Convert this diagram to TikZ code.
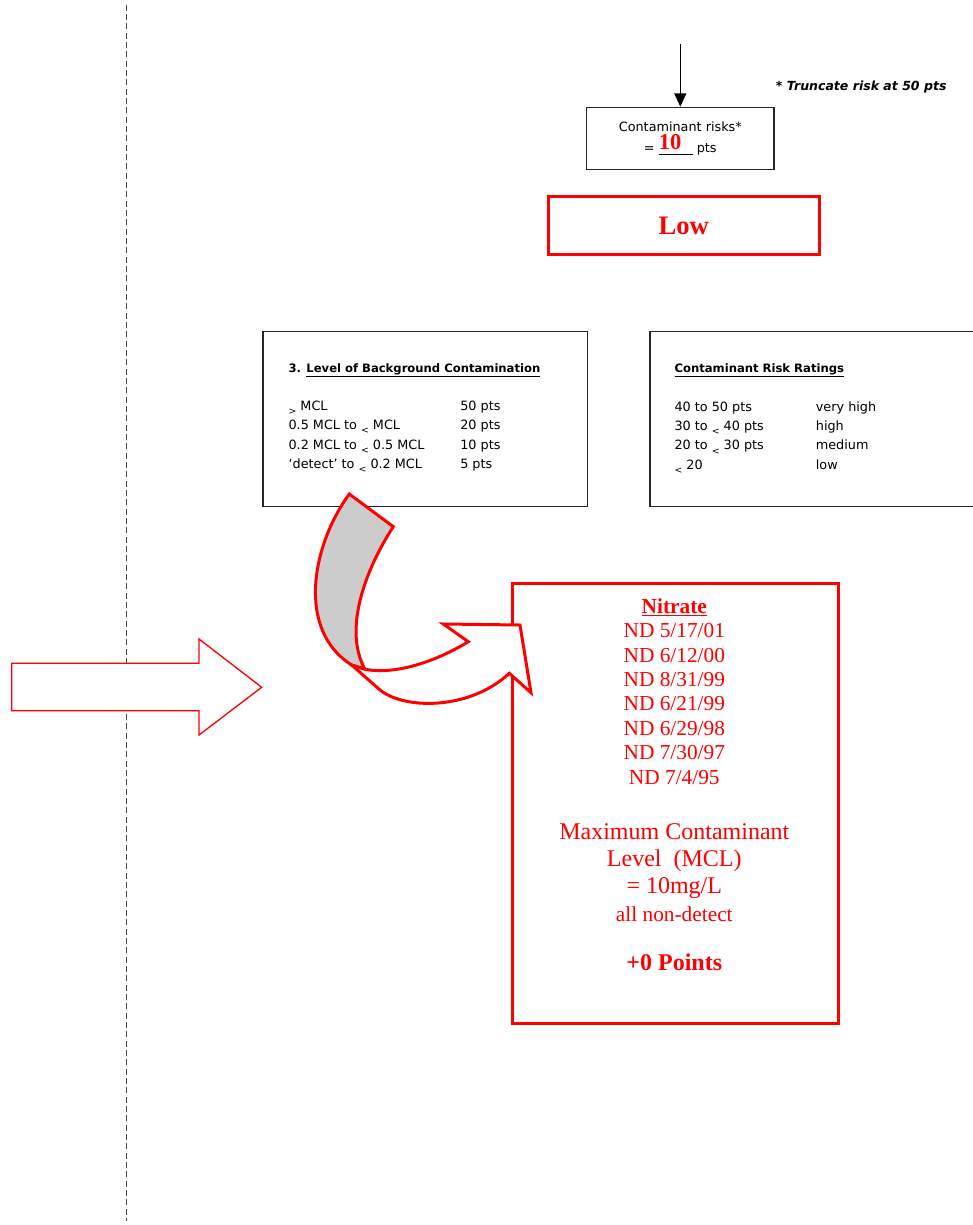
\documentclass[tikz,border=0pt]{standalone}
\usepackage{fontspec}
\setmainfont{Liberation Serif}
\newfontfamily\comic{DejaVu Sans}[ItalicFont={DejaVu Sans Oblique},BoldItalicFont={DejaVu Sans Bold Oblique}]
\usetikzlibrary{arrows.meta}
\newcommand{\lowsym}[1]{\raisebox{-0.6ex}{\scriptsize #1}}

\begin{document}
\begin{tikzpicture}[x=0.75pt,y=-0.75pt,
  black box/.style={draw=black!85,line width=0.95pt,inner sep=0pt},
  red box/.style={draw=red,line width=2.25pt,inner sep=0pt},
  comic text/.style={font=\comic\fontsize{9.6}{14.6}\selectfont,inner sep=0pt},
  comic head/.style={font=\comic\bfseries\fontsize{8.7}{14.6}\selectfont,inner sep=0pt},
  red text/.style={text=red,inner sep=0pt}]

  \useasboundingbox (0,0) rectangle (972,1225);

  % dashed margin line
  \coordinate (m1) at (126.7,4.7);
  \coordinate (m2) at (126.7,1221);
  \draw[black!70,line width=1.1pt,dash pattern=on 4.5pt off 2.5pt] (m1) -- (m2);

  % big arrow on the left
  \draw[red,fill=white,line width=1pt] (11.7,663.3) -- (199,663.3) -- (199,639)
    -- (261.7,687.3) -- (199,735) -- (199,710.7) -- (11.7,710.7) -- cycle;

  % total
  \node[black box,minimum width=140.5pt,minimum height=46.5pt,align=center,
    font=\comic\fontsize{9.6}{15.75}\selectfont] (risk) at (680.3,138.3)
    {Contaminant risks*\\ =~\underline{\makebox[25.5pt][l]{\smash{\raisebox{2pt}{\textcolor{red}{\rmfamily\bfseries\fontsize{17}{17}\selectfont 10}}}}}~pts};
  \coordinate (in) at (680.3,44);
  \draw[-{Triangle[width=9pt,length=10pt]},line width=1pt] (in) -- (risk);
  \node[font=\comic\bfseries\itshape\fontsize{9.4}{11}\selectfont,anchor=base west,inner sep=0pt] (note) at (775.7,90) {* Truncate risk at 50 pts};

  \node[red box,minimum width=203.5pt,minimum height=43.7pt,text=red,
    font=\bfseries\fontsize{20}{20}\selectfont] (low) at (683.7,225.8) {Low};

  % scoring tables
  \node[black box,anchor=north west,minimum width=243.3pt,minimum height=131.3pt] (bg) at (262.3,331) {};
  \node[comic head,anchor=base west] (bgtitle) at (288.3,372.3) {3. \underline{Level of Background Contamination}};
  \node[comic text,anchor=base west] (bgrows) at (288.3,410.3) {\begin{tabular}[t]{@{}p{128.8pt}@{}l@{}}
    \lowsym{>} MCL & 50 pts\\
    0.5 MCL to \lowsym{<} MCL & 20 pts\\
    0.2 MCL to \lowsym{<} 0.5 MCL & 10 pts\\
    ‘detect’ to \lowsym{<} 0.2 MCL & 5 pts
  \end{tabular}};

  \node[black box,anchor=north west,minimum width=248pt,minimum height=131.3pt] (ratings) at (649.3,330.7) {};
  \node[comic head,anchor=base west] (ratingstitle) at (674.3,372.3) {\underline{Contaminant Risk Ratings}};
  \node[comic text,anchor=base west] (ratingsrows) at (674.3,411) {\begin{tabular}[t]{@{}p{106pt}@{}l@{}}
    40 to 50 pts & very high\\
    30 to \lowsym{<} 40 pts & high\\
    20 to \lowsym{<} 30 pts & medium\\
    \lowsym{<} 20 & low
  \end{tabular}};

  % nitrate results
  \node[red box,anchor=north west,minimum width=244.3pt,minimum height=330pt] (nitrate) at (511,581.7) {};
  \node[red text,anchor=base,font=\fontsize{16}{18.3}\selectfont] (dates) at (674.3,613.3) {\begin{tabular}[t]{@{}c@{}}
    \textbf{\underline{Nitrate}}\\
    ND 5/17/01\\
    ND 6/12/00\\
    ND 8/31/99\\
    ND 6/21/99\\
    ND 6/29/98\\
    ND 7/30/97\\
    ND 7/4/95
  \end{tabular}};
  \node[red text,anchor=base,font=\fontsize{18}{20.5}\selectfont] (mcl) at (674.3,839.3) {\begin{tabular}[t]{@{}c@{}}
    Maximum Contaminant\\
    Level\ \ (MCL)\\
    = 10mg/L\\
    {\fontsize{16}{18}\selectfont all non-detect}
  \end{tabular}};
  \node[red text,anchor=base,font=\bfseries\fontsize{18}{20.5}\selectfont] (points) at (674.3,970.7) {+0 Points};

  % curved arrow
  \draw[red,line width=2.25pt,fill=black!20] (349.3,494) -- (393.3,526.7)
    .. controls (365,570) and (343,630) .. (365,669.3) -- (351.7,665)
    .. controls (296,630) and (312,545) .. cycle;
  \draw[red,line width=2.25pt,fill=white] (351.7,665) -- (380,690)
    .. controls (405,710) and (470,710) .. (509.3,673.3) -- (531,692.7)
    -- (520,625) -- (443.3,624) -- (468.3,641.7)
    .. controls (435,662) and (395,675) .. (365,669.3) -- cycle;
\end{tikzpicture}
\end{document}
